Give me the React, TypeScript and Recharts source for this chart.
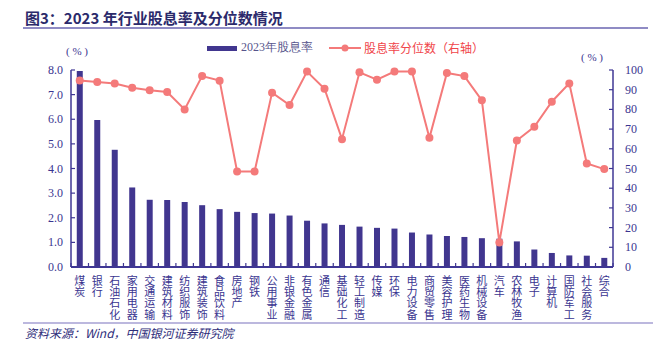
import React from 'react';
import { ComposedChart, Bar, Line, XAxis, YAxis } from 'recharts';

const industries = [
  '煤炭', '银行', '石油石化', '家用电器', '交通运输', '建筑材料', '纺织服饰', '建筑装饰',
  '食品饮料', '房地产', '钢铁', '公用事业', '非银金融', '有色金属', '通信', '基础化工',
  '轻工制造', '传媒', '环保', '电力设备', '商贸零售', '美容护理', '医药生物', '机械设备',
  '汽车', '农林牧渔', '电子', '计算机', '国防军工', '社会服务', '综合',
];
const dividendYield = [
  7.96, 5.97, 4.76, 3.23, 2.73, 2.72, 2.64, 2.51, 2.35, 2.24, 2.19, 2.17, 2.09, 1.88, 1.77, 1.71,
  1.64, 1.59, 1.56, 1.4, 1.32, 1.26, 1.22, 1.17, 1.15, 1.04, 0.71, 0.57, 0.47, 0.46, 0.37,
];
const percentile = [
  94.7, 93.9, 93.1, 91.0, 89.7, 88.8, 80.0, 96.9, 94.6, 48.5, 48.5, 88.5, 82.2, 99.2, 90.5, 64.9,
  98.8, 95.1, 99.2, 99.2, 65.6, 98.5, 96.9, 84.6, 12.5, 64.2, 71.2, 83.9, 93.2, 52.5, 49.7,
];
const leftTicks = [0, 1, 2, 3, 4, 5, 6, 7, 8];
const rightTicks = [0, 10, 20, 30, 40, 50, 60, 70, 80, 90, 100];

const data = industries.map((name, i) => ({
  name,
  yield: dividendYield[i],
  pct: percentile[i],
}));

const AXIS = '#3f3794';
const BAR = '#41368f';
const LINE = '#f47a7a';
const TEXT = '#3a3590';
const CJK = '"Noto Sans CJK SC", sans-serif';
const SERIF = '"Liberation Serif", "DejaVu Serif", serif';

function LeftTick(props: any) {
  const { x, y, payload } = props;
  return (
    <g>
      <line x1={x} y1={y} x2={x + 4} y2={y} stroke={AXIS} strokeWidth={1.2} />
      <text x={x - 8} y={y + 4} textAnchor="end" fontSize={12} fill={TEXT} fontFamily={SERIF}>
        {Number(payload.value).toFixed(1)}
      </text>
    </g>
  );
}

function RightTick(props: any) {
  const { x, y, payload } = props;
  return (
    <g>
      <line x1={x} y1={y} x2={x - 4} y2={y} stroke={AXIS} strokeWidth={1.2} />
      <text x={x + 12} y={y + 4} textAnchor="start" fontSize={12} fill={TEXT} fontFamily={SERIF}>
        {payload.value}
      </text>
    </g>
  );
}

// vertical category label plus boundary tick marks
function CategoryTick(props: any) {
  const { x, y, payload, width, visibleTicksCount, index } = props;
  const band = width / visibleTicksCount;
  return (
    <g>
      <line x1={x - band / 2} y1={y} x2={x - band / 2} y2={y - 4} stroke={AXIS} strokeWidth={1.2} />
      {index === visibleTicksCount - 1 && (
        <line x1={x + band / 2} y1={y} x2={x + band / 2} y2={y - 4} stroke={AXIS} strokeWidth={1.2} />
      )}
      <text
        x={x}
        y={y + 8}
        textAnchor="start"
        fontSize={11}
        fill={TEXT}
        fontFamily={CJK}
        style={{ writingMode: 'vertical-rl', letterSpacing: 0.4 }}
      >
        {payload.value}
      </text>
    </g>
  );
}

export default function App() {
  return (
    <div
      style={{
        position: 'absolute',
        left: 0,
        top: 0,
        width: 670,
        height: 351,
        background: '#ffffff',
        fontFamily: CJK,
      }}
    >
      <div
        style={{
          position: 'absolute',
          left: 25,
          top: 7,
          fontSize: 15,
          fontWeight: 700,
          color: '#2b2a6b',
          whiteSpace: 'nowrap',
        }}
      >
        图3：2023 年行业股息率及分位数情况
      </div>
      <div style={{ position: 'absolute', left: 23, top: 27, width: 625, height: 1.5, background: '#8f8bc4' }} />

      {/* legend */}
      <div style={{ position: 'absolute', left: 207, top: 46, width: 30, height: 4.5, background: BAR }} />
      <div style={{ position: 'absolute', left: 241, top: 39, fontSize: 12, color: '#57558c', fontFamily: SERIF, whiteSpace: 'nowrap' }}>
        2023年股息率
      </div>
      <svg style={{ position: 'absolute', left: 328, top: 42 }} width={34} height={12}>
        <line x1={1} y1={6} x2={33} y2={6} stroke={LINE} strokeWidth={2} />
        <circle cx={17} cy={6} r={3.5} fill={LINE} />
      </svg>
      <div style={{ position: 'absolute', left: 364, top: 39, fontSize: 12, color: '#f0454a', whiteSpace: 'nowrap' }}>
        股息率分位数（右轴）
      </div>

      <div style={{ position: 'absolute', left: 66, top: 45, fontSize: 11, color: TEXT, fontFamily: SERIF }}>( % )</div>
      <div style={{ position: 'absolute', left: 581, top: 51, fontSize: 11, color: TEXT, fontFamily: SERIF }}>( % )</div>

      <div style={{ position: 'absolute', left: 0, top: 0 }}>
        <ComposedChart
          width={670}
          height={351}
          data={data}
          margin={{ top: 70, right: 17, bottom: 24, left: 31 }}
          barCategoryGap="33%"
        >
          <XAxis
            dataKey="name"
            interval={0}
            tickSize={0}
            tickMargin={0}
            tick={<CategoryTick />}
            axisLine={{ stroke: AXIS, strokeWidth: 2 }}
            height={60}
          />
          <YAxis
            yAxisId="left"
            domain={[0, 8]}
            ticks={leftTicks}
            interval={0}
            tickSize={0}
            tickMargin={0}
            tick={<LeftTick />}
            axisLine={{ stroke: AXIS, strokeWidth: 1.5 }}
            width={40}
          />
          <YAxis
            yAxisId="right"
            orientation="right"
            domain={[0, 100]}
            ticks={rightTicks}
            interval={0}
            tickSize={0}
            tickMargin={0}
            tick={<RightTick />}
            axisLine={{ stroke: AXIS, strokeWidth: 1.5 }}
            width={40}
          />
          <Bar yAxisId="left" dataKey="yield" fill={BAR} isAnimationActive={false} />
          <Line
            yAxisId="right"
            dataKey="pct"
            type="linear"
            stroke={LINE}
            strokeWidth={2}
            dot={{ r: 4, fill: LINE, stroke: LINE, strokeWidth: 0 }}
            activeDot={false}
            isAnimationActive={false}
          />
        </ComposedChart>
      </div>

      <div style={{ position: 'absolute', left: 23, top: 322, width: 630, height: 1.5, background: '#bcb8de' }} />
      <div
        style={{
          position: 'absolute',
          left: 25,
          top: 324,
          fontSize: 12,
          fontStyle: 'italic',
          color: '#2e2d7a',
          whiteSpace: 'nowrap',
        }}
      >
        资料来源：Wind，中国银河证券研究院
      </div>
    </div>
  );
}
